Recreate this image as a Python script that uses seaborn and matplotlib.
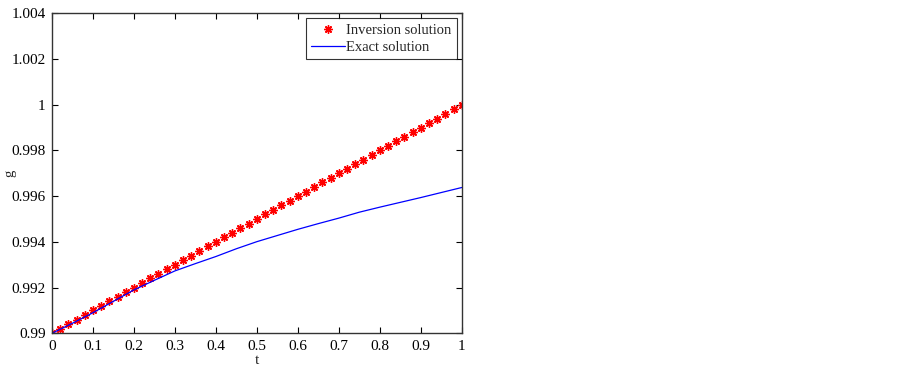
import numpy as np
import pandas as pd
import matplotlib
matplotlib.use("Agg")
import matplotlib.pyplot as plt
import seaborn as sns

# Inversion solution (red asterisks)
t_inv = [0.00, 0.02, 0.04, 0.06, 0.08, 0.10, 0.12, 0.14, 0.16, 0.18,
         0.20, 0.22, 0.24, 0.26, 0.28, 0.30, 0.32, 0.34, 0.36, 0.38,
         0.40, 0.42, 0.44, 0.46, 0.48, 0.50, 0.52, 0.54, 0.56, 0.58,
         0.60, 0.62, 0.64, 0.66, 0.68, 0.70, 0.72, 0.74, 0.76, 0.78,
         0.80, 0.82, 0.84, 0.86, 0.88, 0.90, 0.92, 0.94, 0.96, 0.98, 1.00]
g_inv = [0.9900, 0.9902, 0.9904, 0.9906, 0.9908, 0.9910, 0.9912, 0.9914, 0.9916, 0.9918,
         0.9920, 0.9922, 0.9924, 0.9926, 0.9928, 0.9930, 0.9932, 0.9934, 0.9936, 0.9938,
         0.9940, 0.9942, 0.9944, 0.9946, 0.9948, 0.9950, 0.9952, 0.9954, 0.9956, 0.9958,
         0.9960, 0.9962, 0.9964, 0.9966, 0.9968, 0.9970, 0.9972, 0.9974, 0.9976, 0.9978,
         0.9980, 0.9982, 0.9984, 0.9986, 0.9988, 0.9990, 0.9992, 0.9994, 0.9996, 0.9998, 1.0000]

# Exact solution (blue line)
t_exact = [0.00, 0.05, 0.10, 0.15, 0.20, 0.25, 0.30, 0.35, 0.40, 0.45, 0.50,
           0.55, 0.60, 0.65, 0.70, 0.75, 0.80, 0.85, 0.90, 0.95, 1.00]
g_exact = [0.99000, 0.99044, 0.99090, 0.99140, 0.99190, 0.99232, 0.99273, 0.99305, 0.99336, 0.99370, 0.99401,
           0.99428, 0.99455, 0.99480, 0.99504, 0.99530, 0.99552, 0.99573, 0.99594, 0.99616, 0.99638]

xticks = [0, 0.1, 0.2, 0.3, 0.4, 0.5, 0.6, 0.7, 0.8, 0.9, 1]
xticklabels = ["0", "0.1", "0.2", "0.3", "0.4", "0.5", "0.6", "0.7", "0.8", "0.9", "1"]
yticks = [0.990, 0.992, 0.994, 0.996, 0.998, 1.000, 1.002, 1.004]
yticklabels = ["0.99", "0.992", "0.994", "0.996", "0.998", "1", "1.002", "1.004"]

sns.set_style("ticks")
plt.rcParams['font.family'] = ['Liberation Serif', 'DejaVu Serif']
plt.rcParams['font.size'] = 11

df_inv = pd.DataFrame({"t": t_inv, "g": g_inv})
df_exact = pd.DataFrame({"t": t_exact, "g": g_exact})

fig = plt.figure(figsize=(9.02, 3.68), dpi=100)
ax = fig.add_axes([0.0576, 0.0943, 0.4543, 0.8693])

sns.lineplot(data=df_inv, x="t", y="g", ax=ax, color="red", linestyle="none",
             marker=(8, 2, 0), markersize=6, markeredgewidth=1.0,
             markeredgecolor="red", label="Inversion solution")
sns.lineplot(data=df_exact, x="t", y="g", ax=ax, color="blue", linewidth=0.9,
             label="Exact solution")

ax.set_xlim(0, 1)
ax.set_ylim(0.99, 1.004)
ax.set_xticks(xticks)
ax.set_xticklabels(xticklabels)
ax.set_yticks(yticks)
ax.set_yticklabels(yticklabels)
ax.tick_params(axis="both", direction="in", length=4, width=0.8, top=True, right=True,
               labelsize=11, colors="black")
ax.tick_params(axis="x", pad=4.5)
ax.tick_params(axis="y", pad=4.5)
for s in ax.spines.values():
    s.set_visible(True)
    s.set_color("#333333")
    s.set_linewidth(1.0)
ax.set_xlabel("t", fontsize=11, labelpad=1)
ax.set_ylabel("g", fontsize=10.5)
ax.yaxis.set_label_coords(-0.088, 0.5)

leg = ax.legend(loc="upper right", frameon=True, fancybox=False, fontsize=10.5,
                handlelength=2.3, handletextpad=0.1, borderpad=0.35,
                labelspacing=0.3, borderaxespad=0.35)
leg.get_frame().set_edgecolor("black")
leg.get_frame().set_linewidth(0.8)

fig.savefig("out.png", dpi=100)
